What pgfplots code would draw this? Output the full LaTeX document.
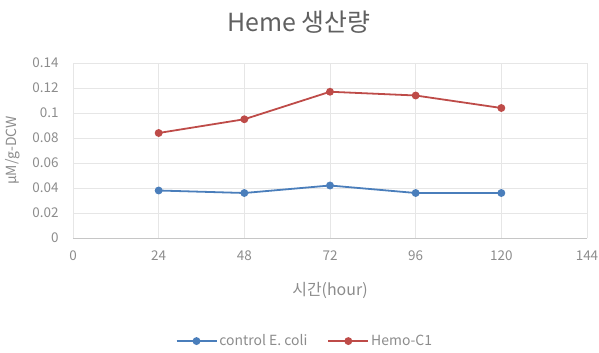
\documentclass[border=0pt]{standalone}
\usepackage{pgfplots}
\pgfplotsset{compat=1.18}
\usepackage{fontspec}
\setmainfont{Noto Sans CJK KR}
\definecolor{txt}{HTML}{8C8C8C}
\definecolor{ttl}{HTML}{606060}
\definecolor{cblue}{HTML}{4A7EBB}
\definecolor{cred}{HTML}{BE4B48}
\definecolor{grd}{HTML}{E6E6E6}
\begin{document}
\begin{tikzpicture}
\path[use as bounding box] (-73bp,-115bp) rectangle (526bp,238bp);
\begin{axis}[
  at={(0,0)}, anchor=south west,
  scale only axis, width=514bp, height=175bp,
  xmin=0, xmax=144, ymin=0, ymax=0.14,
  xtick={0,24,48,72,96,120,144},
  ytick={0,0.02,0.04,0.06,0.08,0.1,0.12,0.14},
  yticklabels={0,0.02,0.04,0.06,0.08,0.1,0.12,0.14},
  grid=major, grid style={grd, line width=0.6pt},
  axis x line*=bottom, axis y line*=left,
  x axis line style={draw=gray!45, line width=0.8pt, -},
  y axis line style={draw=grd, line width=0.6pt, -},
  major tick length=0pt,
  tick label style={font=\fontsize{13.5}{15}\selectfont, text=txt},
  /pgf/number format/assume math mode=true,
  xticklabel style={yshift=-9bp},
  yticklabel style={xshift=-11bp},
  xlabel={시간(hour)}, ylabel={μM/g-DCW},
  xlabel style={font=\fontsize{16}{18}\selectfont, text=txt, at={(axis description cs:0.5,-0.297)}, anchor=center},
  ylabel style={font=\fontsize{14}{16}\selectfont, text=txt, at={(axis description cs:-0.1167,0.5)}, anchor=center},
  legend columns=2,
  legend style={at={(0.451,-0.589)}, anchor=center, draw=none, font=\fontsize{14}{16}\selectfont, text=txt,
    /tikz/every even column/.append style={column sep=18bp}},
  legend image code/.code={\draw[#1] (0bp,0bp) -- (40bp,0bp); \draw[#1, only marks] plot coordinates {(20bp,0bp)};},
]
\addplot[cblue, line width=1.8pt, mark=*, mark size=3pt] coordinates {
  (24,0.038) (48,0.036) (72,0.042) (96,0.036) (120,0.036)};
\addlegendentry{control E. coli}
\addplot[cred, line width=1.8pt, mark=*, mark size=3pt] coordinates {
  (24,0.084) (48,0.095) (72,0.117) (96,0.114) (120,0.104)};
\addlegendentry{Hemo-C1}
\end{axis}
\node[text=ttl, font=\fontsize{25}{29}\selectfont] at (226bp,216bp) {Heme 생산량};
\end{tikzpicture}
\end{document}
